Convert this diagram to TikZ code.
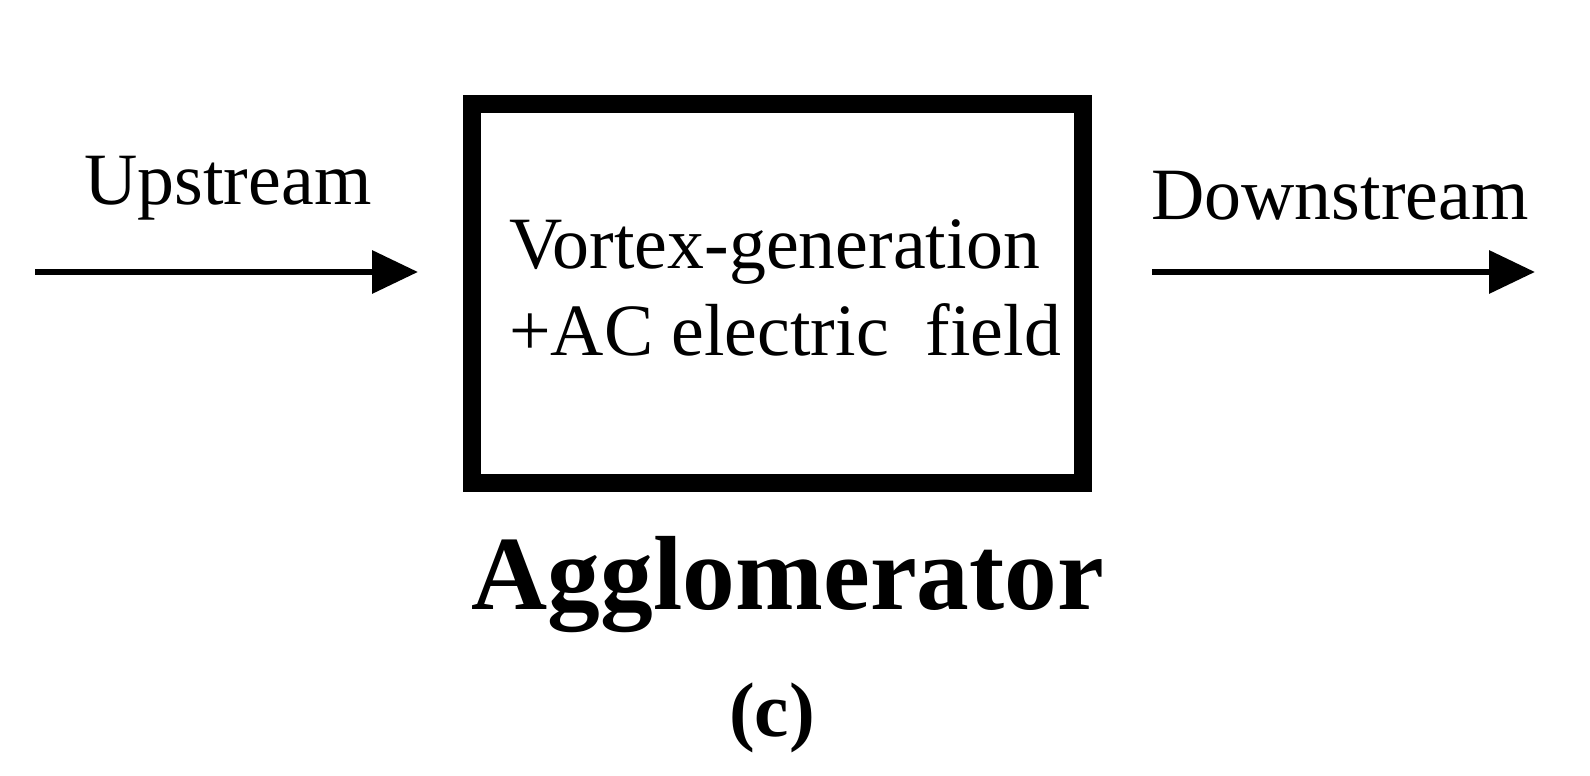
\documentclass[tikz,border=0pt]{standalone}
\usepackage{fontspec}
\setmainfont{Liberation Serif}
\usetikzlibrary{arrows.meta}
\begin{document}
\begin{tikzpicture}[x=0.02cm,y=-0.02cm,
  arr/.style={line width=3.8pt,-{Triangle[length=46*0.02cm,width=42*0.02cm]}},
  lbl/.style={font=\fontsize{42}{50}\selectfont,inner sep=0pt}]
\useasboundingbox (0,0) rectangle (1590,776);
\node[draw,line width=10pt,minimum width=611*0.02cm,minimum height=379*0.02cm,inner sep=0pt] (box) at (777.5,293.5) {};
\node[lbl,align=left] (txt) at (785,288) {Vortex-generation\\+AC electric~ field};
\coordinate (l0) at (35,272); \coordinate (l1) at (418,272);
\coordinate (r0) at (1152,272); \coordinate (r1) at (1535,272);
\draw[arr] (l0) -- (l1);
\draw[arr] (r0) -- (r1);
\node[lbl] (up) at (228,188) {Upstream};
\node[lbl] (down) at (1340,196) {Downstream};
\node[font=\fontsize{60}{70}\selectfont\bfseries,inner sep=0pt] (agg) at (788,585) {Agglomerator};
\node[font=\fontsize{44}{50}\selectfont\bfseries,inner sep=0pt] (c) at (772,718) {(c)};
\end{tikzpicture}
\end{document}
